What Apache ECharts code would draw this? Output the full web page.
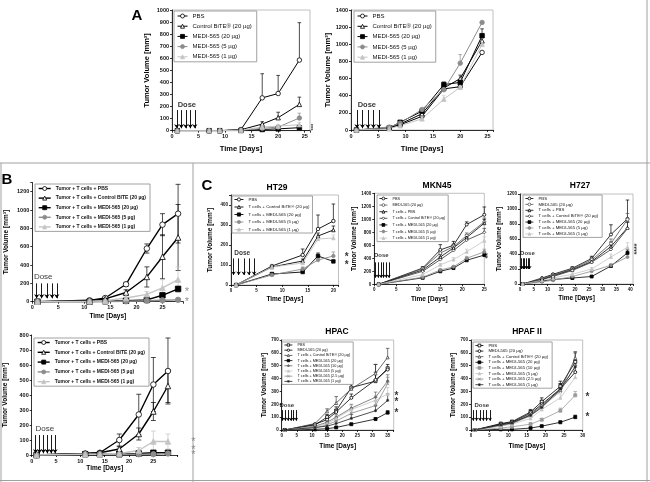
<!DOCTYPE html>
<html><head><meta charset="utf-8">
<script src="https://cdn.jsdelivr.net/npm/echarts/dist/echarts.min.js"></script>
<style>html,body{margin:0;padding:0;background:#fff}#c{width:650px;height:482px}</style>
</head><body><div id="c"></div>
<script>
// ---------------- DATA ----------------
const A_NAMES = ['PBS','Control BiTE® (20 µg)','MEDI-565 (20 µg)','MEDI-565 (5 µg)','MEDI-565 (1 µg)'];
const A1_days = [1,7,9,13,17,20,24];
const A1_PBS  = [0,0,0,10,272,308,585];
const A1_CTRL = [0,0,0,8,55,108,218];
const A1_M20  = [0,0,0,2,10,15,25];
const A1_M5   = [0,0,0,3,20,30,105];
const A1_M1   = [0,0,0,5,30,38,50];
const A1_PBS_sd  = [0,0,0,0,200,150,310];
const A1_CTRL_sd = [0,0,0,0,20,45,60];
const A1_M20_sd  = [0,0,0,0,0,5,10];
const A1_M5_sd   = [0,0,0,0,5,10,40];
const A1_M1_sd   = [0,0,0,0,10,10,20];

const A2_days = [1,7,9,13,17,20,24];
const A2_PBS  = [0,25,60,160,480,505,905];
const A2_CTRL = [0,20,70,190,490,600,1040];
const A2_M20  = [0,25,90,220,530,555,1100];
const A2_M5   = [0,35,80,240,470,780,1255];
const A2_M1   = [0,15,50,130,360,500,1000];
const A2_PBS_sd  = [0,0,0,0,0,0,0];
const A2_CTRL_sd = [0,0,0,30,0,40,0];
const A2_M20_sd  = [0,0,0,20,30,0,80];
const A2_M5_sd   = [0,0,0,0,40,100,0];
const A2_M1_sd   = [0,0,0,0,40,0,0];

const B_NAMES = ['Tumor + T cells + PBS','Tumor + T cells + Control BITE (20 µg)','Tumor + T cells + MEDI-565 (20 µg)','Tumor + T cells + MEDI-565 (5 µg)','Tumor + T cells + MEDI-565 (1 µg)'];
const B1_days = [1,11,14,18,22,25,28];
const B1_PBS  = [0,15,40,190,580,840,960];
const B1_CTRL = [0,10,30,100,270,490,700];
const B1_M20  = [0,0,5,10,20,70,140];
const B1_M5   = [0,0,0,5,10,15,20];
const B1_M1   = [0,5,10,40,80,150,240];
const B1_PBS_sd  = [0,5,10,20,50,120,320];
const B1_CTRL_sd = [0,5,10,30,110,240,360];
const B1_M20_sd  = [0,0,0,5,10,20,20];
const B1_M5_sd   = [0,0,0,0,5,5,5];
const B1_M1_sd   = [0,0,5,10,30,90,140];

const B2_days = [1,11,14,18,22,25,28];
const B2_PBS  = [0,10,15,100,270,470,560];
const B2_CTRL = [0,10,15,40,140,290,460];
const B2_M20  = [0,5,5,5,10,15,15];
const B2_M5   = [0,5,5,5,5,5,10];
const B2_M1   = [0,5,5,10,30,90,90];
const B2_PBS_sd  = [0,3,5,40,135,180,220];
const B2_CTRL_sd = [0,3,5,15,40,60,110];
const B2_M20_sd  = [0,0,0,0,3,5,5];
const B2_M5_sd   = [0,0,0,0,0,3,3];
const B2_M1_sd   = [0,0,0,5,20,70,50];

const HT_NAMES = ['PBS','T cells + Control BiTE® (20 µg)','T cells + MEDI-565 (20 µg)','T cells + MEDI-565 (5 µg)','T cells + MEDI-565 (1 µg)'];
const HT_days = [1,8,14,17,20];
const HT_PBS  = [0,95,150,280,320];
const HT_CTRL = [0,90,120,245,275];
const HT_M20  = [0,55,65,145,118];
const HT_M5   = [0,50,80,125,145];
const HT_M1   = [0,90,110,230,235];
const HT_PBS_sd  = [0,0,30,70,85];
const HT_CTRL_sd = [0,5,10,15,20];
const HT_M20_sd  = [0,5,5,15,5];
const HT_M5_sd   = [0,5,10,10,20];
const HT_M1_sd   = [0,5,10,15,15];

const MK_NAMES = ['PBS','MEDI-565 (20 µg)','T cells + PBS','T cells + Control BiTE® (20 µg)','T cells + MEDI-565 (20 µg)','T cells + MEDI-565 (5 µg)','T cells + MEDI-565 (1 µg)'];
const MK_days  = [1,11,15,18,21,25];
const MK_PBS   = [0,250,530,600,920,1070];
const MK_MEDI  = [0,240,480,580,750,960];
const MK_TPBS  = [0,220,420,560,720,940];
const MK_CTRL  = [0,200,380,520,680,800];
const MK_M20   = [0,100,200,250,370,450];
const MK_M5    = [0,110,220,270,400,500];
const MK_M1    = [0,150,300,380,500,670];
const MK_PBS_sd  = [0,20,80,60,40,120];
const MK_MEDI_sd = [0,20,40,40,40,60];
const MK_TPBS_sd = [0,20,40,40,40,60];
const MK_CTRL_sd = [0,20,40,40,40,60];
const MK_M20_sd  = [0,10,20,20,30,40];
const MK_M5_sd   = [0,10,20,20,30,40];
const MK_M1_sd   = [0,10,20,30,40,60];

const H7_days  = [1,8,12,19,26,33,39];
const H7_PBS   = [0,80,130,210,340,660,870];
const H7_MEDI  = [0,70,120,200,320,540,860];
const H7_TPBS  = [0,60,110,190,300,500,750];
const H7_CTRL  = [0,60,100,180,290,460,740];
const H7_M20   = [0,40,60,80,100,240,415];
const H7_M5    = [0,30,50,100,170,250,360];
const H7_M1    = [0,50,80,130,200,360,490];
const H7_PBS_sd  = [0,0,10,20,30,130,250];
const H7_MEDI_sd = [0,0,10,20,30,60,80];
const H7_TPBS_sd = [0,0,10,20,30,60,80];
const H7_CTRL_sd = [0,0,10,20,30,60,80];
const H7_M20_sd  = [0,0,10,10,10,20,40];
const H7_M5_sd   = [0,0,10,10,20,20,40];
const H7_M1_sd   = [0,0,10,20,20,40,60];

const HP_NAMES = ['PBS','MEDI-565 (20 µg)','T cells + Control BiTE® (20 µg)','T cells + MEDI-565 (20 µg)','T cells + MEDI-565 (10 µg)','T cells + MEDI-565 (5 µg)','T cells + MEDI-565 (2.5 µg)','T cells + MEDI-565 (1 µg)'];
const HC_days = [1,11,15,18,23,31,35];
const HC_PBS  = [0,40,100,150,330,380,480];
const HC_MEDI = [0,45,80,140,250,390,470];
const HC_CTRL = [0,50,145,210,320,440,565];
const HC_M20  = [0,5,10,20,45,85,135];
const HC_M10  = [0,30,60,100,170,255,380];
const HC_M5   = [0,25,50,90,160,230,280];
const HC_M25  = [0,15,40,70,130,190,360];
const HC_M1   = [0,20,30,50,90,150,230];
const HC_PBS_sd  = [0,0,20,30,30,130,0];
const HC_MEDI_sd = [0,0,10,20,30,60,40];
const HC_CTRL_sd = [0,0,20,50,50,70,70];
const HC_M20_sd  = [0,0,0,5,5,10,15];
const HC_M10_sd  = [0,5,10,20,30,40,50];
const HC_M5_sd   = [0,5,10,20,30,40,50];
const HC_M25_sd  = [0,5,10,20,30,40,50];
const HC_M1_sd   = [0,5,10,20,30,40,50];

const HF_days = [1,8,11,16,19,24,28];
const HF_PBS  = [0,50,65,140,220,340,530];
const HF_MEDI = [0,45,60,130,200,320,450];
const HF_CTRL = [0,40,55,120,190,310,560];
const HF_M20  = [0,5,5,15,30,60,100];
const HF_M10  = [0,15,25,45,80,150,270];
const HF_M5   = [0,30,45,90,160,250,410];
const HF_M25  = [0,35,50,110,180,300,500];
const HF_M1   = [0,40,55,115,175,320,490];
const HF_PBS_sd  = [0,5,10,20,30,40,70];
const HF_MEDI_sd = [0,5,10,20,30,40,50];
const HF_CTRL_sd = [0,5,10,20,30,40,50];
const HF_M20_sd  = [0,0,0,5,5,10,15];
const HF_M10_sd  = [0,5,5,10,10,20,30];
const HF_M5_sd   = [0,5,10,10,20,30,40];
const HF_M25_sd  = [0,5,10,20,30,40,50];
const HF_M1_sd   = [0,5,10,20,30,40,50];

// ---------------- STYLE ----------------
const F = '"Liberation Sans", Arial, Helvetica, sans-serif';
const XSYM = 'path://M0,0L10,10M10,0L0,10';
const STARSYM = 'path://M5,0L5,10M0,5L10,5M1.5,1.5L8.5,8.5M8.5,1.5L1.5,8.5';
const STY = {
  oc:{symbol:'circle', fill:'#fff', stroke:'#000', line:'#000'},
  ocg:{symbol:'circle', fill:'#fff', stroke:'#555', line:'#555'},
  ot:{symbol:'triangle', fill:'#fff', stroke:'#000', line:'#000'},
  otg:{symbol:'triangle', fill:'#fff', stroke:'#444', line:'#444'},
  bs:{symbol:'rect', fill:'#000', stroke:'#000', line:'#000'},
  gc:{symbol:'circle', fill:'#8c8c8c', stroke:'#8c8c8c', line:'#8c8c8c'},
  lt:{symbol:'triangle', fill:'#c4c4c4', stroke:'#c4c4c4', line:'#c4c4c4'},
  os:{symbol:'rect', fill:'#fff', stroke:'#000', line:'#000'},
  od:{symbol:'diamond', fill:'#fff', stroke:'#333', line:'#333'},
  gd:{symbol:'diamond', fill:'#666', stroke:'#666', line:'#666'},
  gs:{symbol:'rect', fill:'#999', stroke:'#999', line:'#999'},
  gx:{symbol:XSYM, fill:'#fff', stroke:'#888', line:'#888'},
  ds:{symbol:STARSYM, fill:'#fff', stroke:'#222', line:'#222'}
};

// ---------------- PANELS ----------------
const panels = [
 {key:'A1', g:[172,10,138,120.7], frame:true, xMax:26, xInt:5, xLab:25, yMax:1000, yInt:100, yLab:1000,
  days:A1_days, both:false, lw:1, sym:4.5, tickFs:5.5, tickBold:true, nameFs:7.5, xGap:14, yGap:21,
  series:[[A_NAMES[0],'oc',A1_PBS,A1_PBS_sd],[A_NAMES[1],'ot',A1_CTRL,A1_CTRL_sd],[A_NAMES[2],'bs',A1_M20,A1_M20_sd],[A_NAMES[3],'gc',A1_M5,A1_M5_sd],[A_NAMES[4],'lt',A1_M1,A1_M1_sd]],
  legend:{left:174, top:11, fs:6, bold:false, iw:10, ih:5, gap:4.2, pad:[2,5,2,3]},
  dose:{x:2.8, y:213, fs:7.5, bold:true, arrows:[0.9,1.75,2.6,3.45,4.3], top:171, bot:20, as:4},
  stars:{fs:6, color:'#000', bold:true, pts:[[26.6,30,'***',90]]}},
 {key:'A2', g:[351,10,142,120], frame:true, xMax:26, xInt:5, xLab:25, yMax:1400, yInt:200, yLab:1400,
  days:A2_days, both:false, lw:1, sym:4.5, tickFs:5.5, tickBold:true, nameFs:7.5, xGap:15, yGap:15,
  series:[[A_NAMES[0],'oc',A2_PBS,A2_PBS_sd],[A_NAMES[1],'ot',A2_CTRL,A2_CTRL_sd],[A_NAMES[2],'bs',A2_M20,A2_M20_sd],[A_NAMES[3],'gc',A2_M5,A2_M5_sd],[A_NAMES[4],'lt',A2_M1,A2_M1_sd]],
  legend:{left:354, top:11, fs:6, bold:false, iw:10, ih:5, gap:4.3, pad:[2,4,2,3]},
  dose:{x:2.9, y:292, fs:7.5, bold:true, arrows:[1.1,2.1,3.1,4.1,5.1], top:233, bot:20, as:4},
  stars:null},
 {key:'B1', g:[32.3,182.5,151,119.2], frame:false, xMax:29, xInt:5, xLab:25, yMax:1300, yInt:200, yLab:1200,
  days:B1_days, both:true, lw:1.4, sym:5.5, tickFs:5.5, tickBold:true, nameFs:6.5, xGap:11.5, yGap:23,
  series:[[B_NAMES[0],'oc',B1_PBS,B1_PBS_sd],[B_NAMES[1],'ot',B1_CTRL,B1_CTRL_sd],[B_NAMES[2],'bs',B1_M20,B1_M20_sd],[B_NAMES[3],'gc',B1_M5,B1_M5_sd],[B_NAMES[4],'lt',B1_M1,B1_M1_sd]],
  legend:{left:35, top:184, fs:5, bold:true, iw:12, ih:5, gap:4.6, pad:[2,4,2,3]},
  dose:{x:2.1, y:273, fs:8, bold:false, arrows:[0.85,1.8,2.8,3.8,4.7], top:200, bot:37, as:4},
  stars:{fs:11, color:'#777', bold:false, pts:[[29.7,110,'*',0],[29.7,0,'*',0]]}},
 {key:'B2', g:[31.7,335,146,120], frame:false, xMax:30, xInt:5, xLab:25, yMax:800, yInt:100, yLab:800,
  days:B2_days, both:true, lw:1.4, sym:5.5, tickFs:5.5, tickBold:true, nameFs:6.5, xGap:4.5, yGap:23,
  series:[[B_NAMES[0],'oc',B2_PBS,B2_PBS_sd],[B_NAMES[1],'ot',B2_CTRL,B2_CTRL_sd],[B_NAMES[2],'bs',B2_M20,B2_M20_sd],[B_NAMES[3],'gc',B2_M5,B2_M5_sd],[B_NAMES[4],'lt',B2_M1,B2_M1_sd]],
  legend:{left:34, top:338, fs:5, bold:true, iw:12, ih:5, gap:4.8, pad:[2,4,2,3]},
  dose:{x:2.7, y:178, fs:8, bold:false, arrows:[0.8,1.6,2.4,3.2,4.0,4.8], top:133, bot:11, as:4},
  stars:{fs:11, color:'#777', bold:false, pts:[[33.2,85,'*',0],[33.2,35,'*',0],[33.2,0,'*',0]]}},
 {key:'HT', g:[231,195,107.5,90], frame:true, xMax:21, xInt:5, xLab:20, yMax:450, yInt:100, yLab:400,
  days:HT_days, both:false, lw:0.9, sym:3.5, tickFs:4.5, tickBold:true, nameFs:6.5, xGap:11, yGap:17,
  series:[[HT_NAMES[0],'oc',HT_PBS,HT_PBS_sd],[HT_NAMES[1],'ot',HT_CTRL,HT_CTRL_sd],[HT_NAMES[2],'bs',HT_M20,HT_M20_sd],[HT_NAMES[3],'gc',HT_M5,HT_M5_sd],[HT_NAMES[4],'lt',HT_M1,HT_M1_sd]],
  legend:{left:232, top:196, fs:4.4, bold:false, iw:9, ih:4, gap:3.5, pad:[1.5,3,1.5,2]},
  dose:{x:2.2, y:158, fs:6.5, bold:true, arrows:[0.5,1.5,2.5,3.5,4.5], top:133, bot:50, as:3.5},
  stars:{fs:10, color:'#000', bold:true, pts:[[22.6,140,'*',0],[22.6,100,'*',0]]},
  title:{text:'HT29', x:277, y:188}},
 {key:'MK', g:[374.3,193.3,110,91], frame:true, xMax:25, xInt:5, xLab:25, yMax:1400, yInt:200, yLab:1400,
  days:MK_days, both:false, lw:0.8, sym:3, tickFs:4.5, tickBold:true, nameFs:6.5, xGap:11, yGap:8,
  series:[[MK_NAMES[0],'oc',MK_PBS,MK_PBS_sd],[MK_NAMES[1],'ocg',MK_MEDI,MK_MEDI_sd],[MK_NAMES[2],'ot',MK_TPBS,MK_TPBS_sd],[MK_NAMES[3],'od',MK_CTRL,MK_CTRL_sd],[MK_NAMES[4],'bs',MK_M20,MK_M20_sd],[MK_NAMES[5],'gc',MK_M5,MK_M5_sd],[MK_NAMES[6],'lt',MK_M1,MK_M1_sd]],
  legend:{left:377, top:195, fs:3.8, bold:false, iw:8, ih:3.5, gap:2.6, pad:[1.5,3,1.5,2]},
  dose:{x:1.6, y:451, fs:6, bold:true, arrows:[0.3,0.9,1.5,2.1,2.7,3.3], top:338, bot:102, as:3},
  stars:{fs:7, color:'#000', bold:true, pts:[[25.9,440,'**',90]]},
  title:{text:'MKN45', x:437, y:186}},
 {key:'H7', g:[520,194,113,90], frame:true, xMax:41, xInt:5, xLab:40, yMax:1200, yInt:200, yLab:1200,
  days:H7_days, both:false, lw:0.8, sym:3, tickFs:4.5, tickBold:true, nameFs:6.5, xGap:11, yGap:9.5,
  series:[[MK_NAMES[0],'oc',H7_PBS,H7_PBS_sd],[MK_NAMES[1],'ocg',H7_MEDI,H7_MEDI_sd],[MK_NAMES[2],'ot',H7_TPBS,H7_TPBS_sd],[MK_NAMES[3],'od',H7_CTRL,H7_CTRL_sd],[MK_NAMES[4],'bs',H7_M20,H7_M20_sd],[MK_NAMES[5],'gc',H7_M5,H7_M5_sd],[MK_NAMES[6],'lt',H7_M1,H7_M1_sd]],
  legend:{left:523, top:195, fs:4.3, bold:false, iw:8, ih:3.5, gap:1.9, pad:[1.5,4,1.5,2]},
  dose:{x:2.7, y:409, fs:6, bold:true, arrows:[0.5,1.1,1.7,2.3,2.9,3.5], top:343, bot:200, as:3},
  stars:{fs:7, color:'#000', bold:true, pts:[[42.3,467,'****',90]]},
  title:{text:'H727', x:580, y:186}},
 {key:'HC', g:[281.7,340,112,90], frame:true, xMax:37, xInt:5, xLab:35, yMax:700, yInt:100, yLab:700,
  days:HC_days, both:false, lw:0.8, sym:3, tickFs:4.5, tickBold:true, nameFs:6.5, xGap:12.5, yGap:14.4,
  series:[[HP_NAMES[0],'os',HC_PBS,HC_PBS_sd],[HP_NAMES[1],'oc',HC_MEDI,HC_MEDI_sd],[HP_NAMES[2],'otg',HC_CTRL,HC_CTRL_sd],[HP_NAMES[3],'bs',HC_M20,HC_M20_sd],[HP_NAMES[4],'gd',HC_M10,HC_M10_sd],[HP_NAMES[5],'lt',HC_M5,HC_M5_sd],[HP_NAMES[6],'gx',HC_M25,HC_M25_sd],[HP_NAMES[7],'ds',HC_M1,HC_M1_sd]],
  legend:{left:282, top:342, fs:3.8, bold:false, iw:8, ih:3, gap:1.2, pad:[1,3,1,2]},
  dose:{x:1.7, y:194, fs:6, bold:true, arrows:[0.3,1.2,2.1,3.0,3.9,4.8], top:155, bot:72, as:3},
  stars:{fs:10, color:'#000', bold:true, pts:[[37.9,262,'*',0],[37.9,215,'*',0],[37.9,128,'*',0]]},
  title:{text:'HPAC', x:337, y:332}},
 {key:'HF', g:[471,340,111.7,90], frame:true, xMax:30, xInt:5, xLab:30, yMax:700, yInt:100, yLab:700,
  days:HF_days, both:false, lw:0.8, sym:3, tickFs:4.5, tickBold:true, nameFs:6.5, xGap:12.5, yGap:14.5,
  series:[[HP_NAMES[0],'os',HF_PBS,HF_PBS_sd],[HP_NAMES[1],'oc',HF_MEDI,HF_MEDI_sd],[HP_NAMES[2],'otg',HF_CTRL,HF_CTRL_sd],[HP_NAMES[3],'bs',HF_M20,HF_M20_sd],[HP_NAMES[4],'gs',HF_M10,HF_M10_sd],[HP_NAMES[5],'lt',HF_M5,HF_M5_sd],[HP_NAMES[6],'gx',HF_M25,HF_M25_sd],[HP_NAMES[7],'ds',HF_M1,HF_M1_sd]],
  legend:{left:473, top:342, fs:4.3, bold:false, iw:8, ih:3.5, gap:1.6, pad:[1.5,4,1.5,2]},
  dose:{x:2.9, y:194, fs:6, bold:true, arrows:[0.6,1.5,2.4,3.3,4.2,5.1], top:155, bot:72, as:3},
  stars:{fs:10, color:'#000', bold:true, pts:[[31.3,252,'*',0],[31.3,97,'*',0]]},
  title:{text:'HPAF II', x:527, y:332}}
];

// ---------------- BUILD ----------------
const option = {animation:false, backgroundColor:'#fff', grid:[], xAxis:[], yAxis:[], legend:[], series:[], graphic:[]};
const txt = (fs,bold,color)=>({fontFamily:F, fontSize:fs, fontWeight:bold?'bold':'normal', color:color||'#000'});
const near = (v,step)=>Math.abs(v/step-Math.round(v/step))<1e-6;

panels.forEach((p,i)=>{
  option.grid.push({left:p.g[0], top:p.g[1], width:p.g[2], height:p.g[3], show:p.frame, borderColor:'#b0b0b0', borderWidth:0.8, containLabel:false, outerBoundsMode:'none'});
  option.xAxis.push({type:'value', gridIndex:i, min:0, max:p.xMax, interval:p.xInt,
    name:'Time [Days]', nameLocation:'middle', nameGap:p.xGap, nameTextStyle:txt(p.nameFs,true),
    axisLine:{show:true, onZero:false, lineStyle:{color:'#000', width:0.8}},
    axisTick:{show:true, length:2, lineStyle:{color:'#000', width:0.8}},
    axisLabel:Object.assign(txt(p.tickFs,p.tickBold,'#111'),{margin:3, showMaxLabel:true, formatter:v=>(near(v,p.xInt)&&v<=p.xLab+1e-6)?String(v):''}),
    splitLine:{show:false}});
  option.yAxis.push({type:'value', gridIndex:i, min:0, max:p.yMax, interval:p.yInt,
    name:'Tumor Volume [mm³]', nameLocation:'middle', nameGap:p.yGap, nameRotate:90, nameTextStyle:txt(p.nameFs,true),
    axisLine:{show:true, onZero:false, lineStyle:{color:'#000', width:0.8}},
    axisTick:{show:true, length:2, lineStyle:{color:'#000', width:0.8}},
    axisLabel:Object.assign(txt(p.tickFs,p.tickBold,'#111'),{margin:3, formatter:v=>(near(v,p.yInt)&&v<=p.yLab+1e-6)?String(v):''}),
    splitLine:{show:false}});
  const legendData = [];
  p.series.forEach(([nm,sk,vals,sd])=>{
    const s = STY[sk]; const id = p.key+'|'+nm;
    legendData.push({name:id, itemStyle:{color:s.fill, borderColor:s.stroke, borderWidth:0.8}, lineStyle:{color:s.line, width:p.lw}});
    const errData = [];
    p.days.forEach((d,k)=>{ if(sd[k]>0){ errData.push([d, p.both? vals[k]-sd[k] : vals[k], vals[k]+sd[k]]); } });
    const cap = p.both ? 2.5 : 1.8;
    option.series.push({type:'custom', xAxisIndex:i, yAxisIndex:i, z:2, silent:true, clip:false, data:errData,
      renderItem:(params, api)=>{
        const x=api.value(0), lo=api.value(1), hi=api.value(2);
        const a=api.coord([x,lo]), b=api.coord([x,hi]);
        const st={stroke:s.line, lineWidth:0.7, fill:null};
        const ch=[{type:'line', shape:{x1:a[0],y1:a[1],x2:b[0],y2:b[1]}, style:st},
                  {type:'line', shape:{x1:b[0]-cap,y1:b[1],x2:b[0]+cap,y2:b[1]}, style:st}];
        if(p.both) ch.push({type:'line', shape:{x1:a[0]-cap,y1:a[1],x2:a[0]+cap,y2:a[1]}, style:st});
        return {type:'group', children:ch};
      }});
    option.series.push({type:'line', name:id, xAxisIndex:i, yAxisIndex:i, z:3,
      data:p.days.map((d,k)=>[d, vals[k]]),
      symbol:s.symbol, symbolSize:p.sym, showSymbol:true,
      itemStyle:{color:s.fill, borderColor:s.stroke, borderWidth:0.8, opacity:1},
      lineStyle:{color:s.line, width:p.lw}, emphasis:{disabled:true}});
  });
  const L = p.legend;
  option.legend.push({data:legendData, orient:'vertical', left:L.left, top:L.top, selectedMode:false,
    itemWidth:L.iw, itemHeight:L.ih, itemGap:L.gap, padding:L.pad,
    borderColor:'#8a8a8a', borderWidth:0.8, backgroundColor:'#fff',
    textStyle:Object.assign(txt(L.fs,L.bold,'#111'),{padding:0}),
    formatter:n=>n.split('|')[1]});
  const D = p.dose;
  option.series.push({type:'scatter', xAxisIndex:i, yAxisIndex:i, z:4, silent:true, clip:false,
    data:[[D.x, D.y]], symbolSize:1, itemStyle:{color:'rgba(0,0,0,0)'},
    label:{show:true, position:'inside', formatter:'Dose', fontFamily:F, fontSize:D.fs, fontWeight:D.bold?'bold':'normal', color:'#000'},
    markLine:{silent:true, animation:false, symbol:['none','arrow'], symbolSize:D.as, label:{show:false},
      lineStyle:{color:'#000', width:0.9, type:'solid'}, emphasis:{disabled:true},
      data:D.arrows.map(d=>[{coord:[d,D.top]},{coord:[d,D.bot]}])}});
  if(p.stars){
    const S = p.stars;
    option.series.push({type:'scatter', xAxisIndex:i, yAxisIndex:i, z:4, silent:true, clip:false,
      symbolSize:1, itemStyle:{color:'rgba(0,0,0,0)'},
      data:S.pts.map(([x,y,t,r])=>({value:[x,y], label:{formatter:t, rotate:r}})),
      label:{show:true, position:'inside', fontFamily:F, fontSize:S.fs, fontWeight:S.bold?'bold':'normal', color:S.color}});
  }
  if(p.title){
    option.graphic.push({type:'text', x:p.title.x, y:p.title.y, silent:true,
      style:{text:p.title.text, fill:'#000', font:'bold 8.5px '+F, textAlign:'center', textVerticalAlign:'middle'}});
  }
});

[['A',137,16],['B',7,180],['C',207,186]].forEach(([t,x,y])=>{
  option.graphic.push({type:'text', x:x, y:y, silent:true, style:{text:t, fill:'#000', font:'bold 15px '+F, textAlign:'center', textVerticalAlign:'middle'}});
});
[[0,163,650,163],[193,163,193,482],[647,0,647,482],[1,163,1,482],[0,480.5,650,480.5]].forEach(([x1,y1,x2,y2])=>{
  option.graphic.push({type:'line', silent:true, shape:{x1,y1,x2,y2}, style:{stroke:'#a0a0a0', lineWidth:1}});
});

const chart = echarts.init(document.getElementById('c'), null, {renderer:'canvas'});
chart.setOption(option);
</script></body></html>
